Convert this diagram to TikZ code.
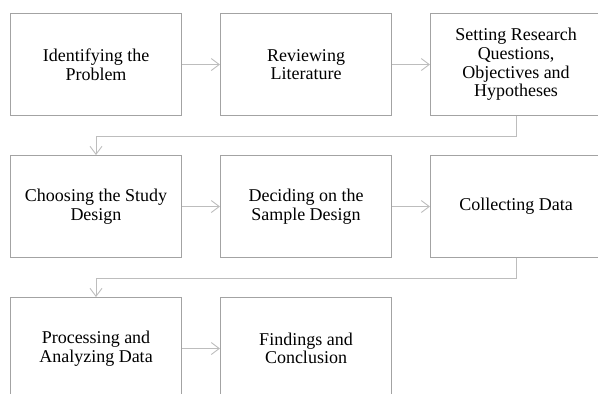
\documentclass[tikz,border=0pt]{standalone}
\usepackage{fontspec}
\setmainfont{Liberation Serif}
\usepackage{xcolor}
\usepackage{tikz}
\usetikzlibrary{arrows.meta,positioning}
\definecolor{boxgray}{HTML}{A3A3A3}
\definecolor{arrgray}{HTML}{BDBDBD}
\tikzset{
  box/.style={draw=boxgray,line width=1pt,align=center,font=\fontsize{18}{18.6}\selectfont,minimum width=171pt,minimum height=102pt,inner sep=4pt},
  arr/.style={-{Straight Barb[length=8pt,width=12pt]},draw=arrgray,line width=0.9pt},
}

\begin{document}
\begin{tikzpicture}[x=1pt,y=1pt]
\useasboundingbox (0,0) rectangle (598,-394);
\clip (0,0) rectangle (598,-394);
% first row
\node[box,anchor=north west] (ident) at (10,-13) {Identifying the\\Problem};
\node[box,right=38pt of ident] (review) {Reviewing\\Literature};
\node[box,right=38pt of review] (setting) {Setting Research\\Questions,\\Objectives and\\Hypotheses};
% second row
\node[box,below=39pt of ident] (design) {Choosing the Study\\Design};
\node[box,right=38pt of design] (sample) {Deciding on the\\Sample Design};
\node[box,right=38pt of sample] (collect) {Collecting Data};
% third row
\node[box,below=39pt of design] (process) {Processing and\\Analyzing Data};
\node[box,right=38pt of process] (findings) {Findings and\\Conclusion};
% connectors
\draw[arr] (ident) -- (review);
\draw[arr] (review) -- (setting);
\draw[arr] (setting.south) -- ++(0,-20) -| (design.north);
\draw[arr] (design) -- (sample);
\draw[arr] (sample) -- (collect);
\draw[arr] (collect.south) -- ++(0,-20) -| (process.north);
\draw[arr] (process) -- (findings);
\end{tikzpicture}
\end{document}
